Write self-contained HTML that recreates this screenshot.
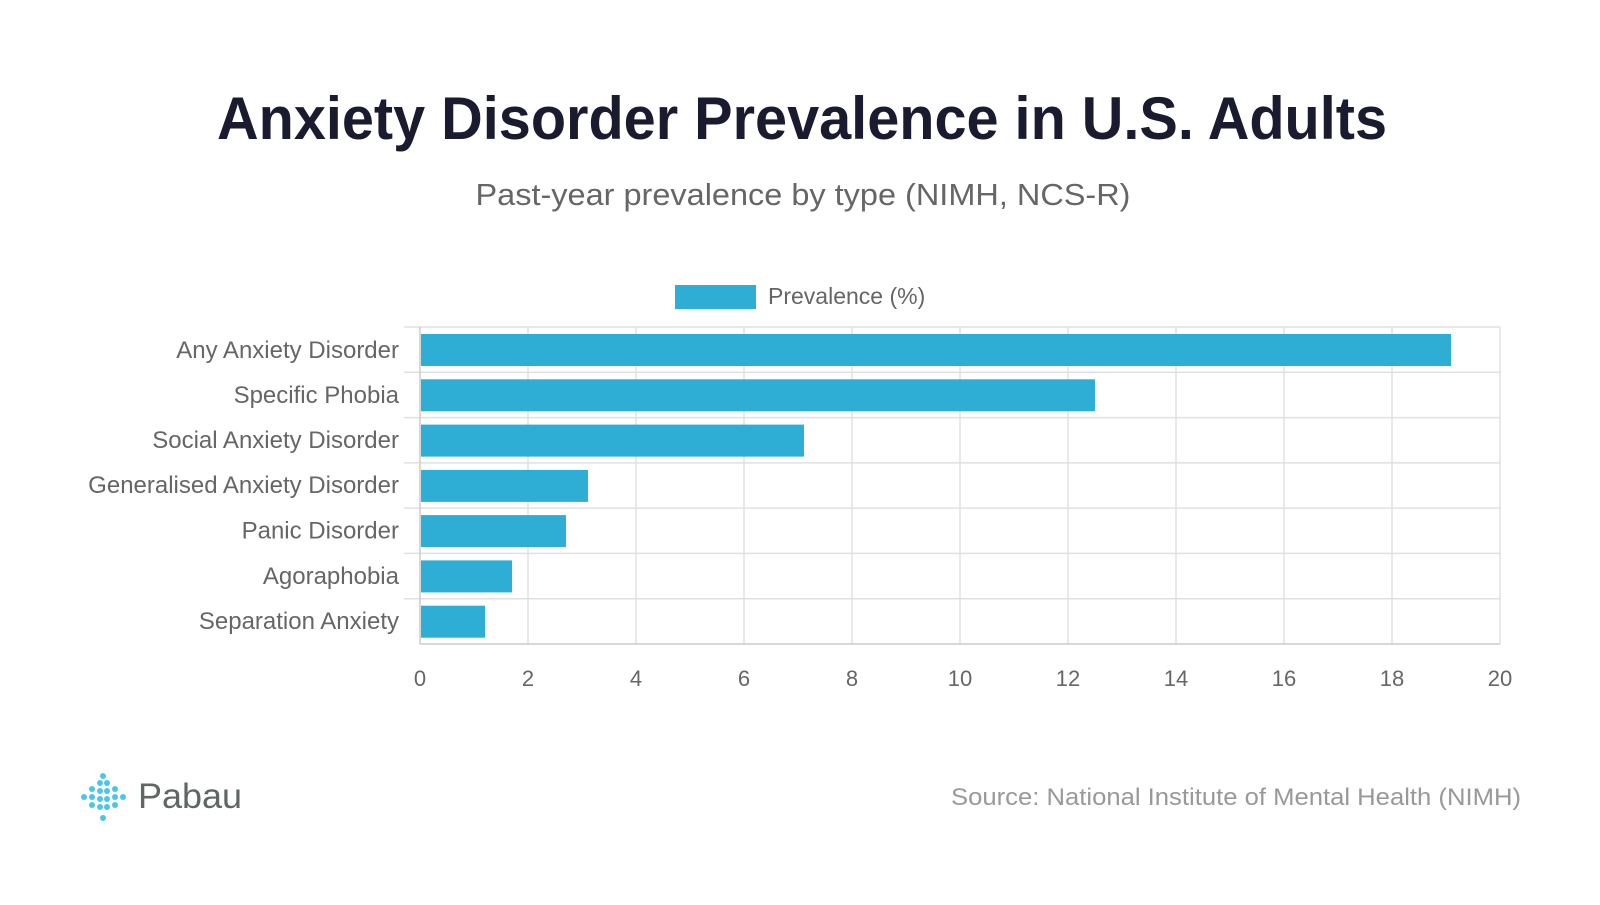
<!DOCTYPE html>
<html><head><style>
body{margin:0;width:1600px;height:900px;background:#fff;overflow:hidden;font-family:"Liberation Sans",sans-serif}
</style></head><body>
<svg width="1600" height="900" xmlns="http://www.w3.org/2000/svg" font-family="Liberation Sans, sans-serif">
<text x="802" y="139" text-anchor="middle" font-size="60" font-weight="bold" fill="#1b1b30" textLength="1170" lengthAdjust="spacingAndGlyphs">Anxiety Disorder Prevalence in U.S. Adults</text>
<text x="803" y="205" text-anchor="middle" font-size="31" fill="#666" textLength="655" lengthAdjust="spacingAndGlyphs">Past-year prevalence by type (NIMH, NCS-R)</text>
<rect x="675" y="285" width="81" height="24" fill="#2eadd5"/>
<text x="768" y="304" font-size="23" fill="#666">Prevalence (%)</text>
<g stroke="#e0e0e0" stroke-width="1.5">
<line x1="528" y1="327" x2="528" y2="644"/><line x1="636" y1="327" x2="636" y2="644"/><line x1="744" y1="327" x2="744" y2="644"/><line x1="852" y1="327" x2="852" y2="644"/><line x1="960" y1="327" x2="960" y2="644"/><line x1="1068" y1="327" x2="1068" y2="644"/><line x1="1176" y1="327" x2="1176" y2="644"/><line x1="1284" y1="327" x2="1284" y2="644"/><line x1="1392" y1="327" x2="1392" y2="644"/><line x1="1500" y1="327" x2="1500" y2="644"/>
<line x1="404" y1="327" x2="1500" y2="327"/><line x1="404" y1="372.3" x2="1500" y2="372.3"/><line x1="404" y1="417.6" x2="1500" y2="417.6"/><line x1="404" y1="462.9" x2="1500" y2="462.9"/><line x1="404" y1="508.1" x2="1500" y2="508.1"/><line x1="404" y1="553.4" x2="1500" y2="553.4"/><line x1="404" y1="598.7" x2="1500" y2="598.7"/>
</g>
<line x1="420" y1="327" x2="420" y2="644" stroke="#ccc" stroke-width="1.5"/>
<line x1="420" y1="644" x2="1500" y2="644" stroke="#ccc" stroke-width="1.5"/>
<g fill="#2eadd5">
<rect x="421" y="334" width="1030" height="32"/>
<rect x="421" y="379.3" width="674" height="32"/>
<rect x="421" y="424.6" width="383" height="32"/>
<rect x="421" y="469.9" width="167" height="32"/>
<rect x="421" y="515.1" width="145" height="32"/>
<rect x="421" y="560.4" width="91" height="32"/>
<rect x="421" y="605.7" width="64" height="32"/>
</g>
<g font-size="24" fill="#666" text-anchor="end">
<text x="399" y="358">Any Anxiety Disorder</text>
<text x="399" y="403">Specific Phobia</text>
<text x="399" y="448">Social Anxiety Disorder</text>
<text x="399" y="493">Generalised Anxiety Disorder</text>
<text x="399" y="538.5">Panic Disorder</text>
<text x="399" y="584">Agoraphobia</text>
<text x="399" y="629">Separation Anxiety</text>
</g>
<g font-size="22" fill="#666" text-anchor="middle">
<text x="420" y="686">0</text><text x="528" y="686">2</text><text x="636" y="686">4</text><text x="744" y="686">6</text><text x="852" y="686">8</text><text x="960" y="686">10</text><text x="1068" y="686">12</text><text x="1176" y="686">14</text><text x="1284" y="686">16</text><text x="1392" y="686">18</text><text x="1500" y="686">20</text>
</g>
<g fill="#4cc6e6">
<circle cx="84" cy="797" r="3"/>
<circle cx="92" cy="789" r="3"/><circle cx="92" cy="797" r="3"/><circle cx="92" cy="805" r="3"/>
<circle cx="100" cy="783" r="3"/><circle cx="100" cy="791" r="3"/><circle cx="100" cy="799" r="3"/><circle cx="100" cy="807" r="3"/>
<circle cx="103" cy="776" r="3"/><circle cx="103" cy="818" r="3"/>
<circle cx="107" cy="783" r="3"/><circle cx="107" cy="791" r="3"/><circle cx="107" cy="799" r="3"/><circle cx="107" cy="807" r="3"/>
<circle cx="115" cy="789" r="3"/><circle cx="115" cy="797" r="3"/><circle cx="115" cy="805" r="3"/>
<circle cx="123" cy="797" r="3"/>
</g>
<text x="138" y="808" font-size="35" fill="#606565" textLength="104" lengthAdjust="spacingAndGlyphs">Pabau</text>
<text x="1521" y="805" text-anchor="end" font-size="24" fill="#999" textLength="570" lengthAdjust="spacingAndGlyphs">Source: National Institute of Mental Health (NIMH)</text>
</svg>
</body></html>
